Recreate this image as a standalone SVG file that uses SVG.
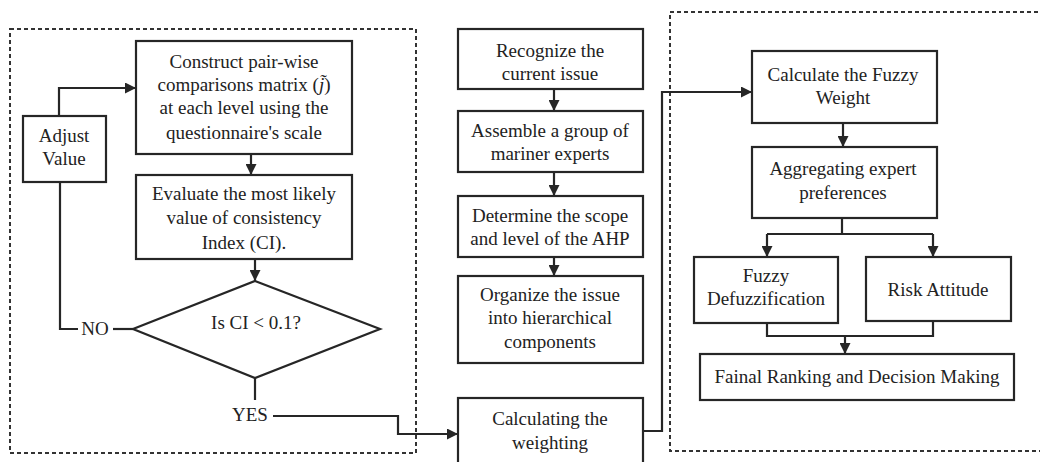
<svg xmlns="http://www.w3.org/2000/svg" width="1040" height="462" viewBox="0 0 1040 462">
<style>
.box{fill:#fff;stroke:#262626;stroke-width:2.2}
.dash{fill:none;stroke:#333;stroke-width:2;stroke-dasharray:4 3}
.ln{fill:none;stroke:#262626;stroke-width:2.2}
.t{font-family:'Liberation Serif','Times New Roman',Times,serif;font-size:19px;fill:#222;text-anchor:middle}
</style>
<defs>
<marker id="ah" viewBox="0 0 10 10" refX="10" refY="5" markerWidth="5" markerHeight="5" orient="auto" markerUnits="strokeWidth">
<path d="M0,0 L10,5 L0,10 z" fill="#262626"/>
</marker>
</defs>
<rect width="1040" height="462" fill="#fff"/>
<rect class="dash" x="10" y="29" width="406" height="424"/>
<rect class="dash" x="670" y="12" width="380" height="439"/>
<g id="connectors">
<path class="ln" d="M59,116 V88 H136" marker-end="url(#ah)"/>
<path class="ln" d="M251,154 V175" marker-end="url(#ah)"/>
<path class="ln" d="M255,259 V281" marker-end="url(#ah)"/>
<path class="ln" d="M133,329 H113"/>
<path class="ln" d="M78,329 H60 V182"/>
<path class="ln" d="M255,378 V400"/>
<path class="ln" d="M273,416 H398 V434 H458" marker-end="url(#ah)"/>
<path class="ln" d="M554,89 V111" marker-end="url(#ah)"/>
<path class="ln" d="M554,172 V196" marker-end="url(#ah)"/>
<path class="ln" d="M554,257 V276" marker-end="url(#ah)"/>
<path class="ln" d="M643,431 H662 V92 H752" marker-end="url(#ah)"/>
<path class="ln" d="M843,123 V147" marker-end="url(#ah)"/>
<path class="ln" d="M842,218 V234"/>
<path class="ln" d="M767,234 H933"/>
<path class="ln" d="M767,234 V257" marker-end="url(#ah)"/>
<path class="ln" d="M933,234 V257" marker-end="url(#ah)"/>
<path class="ln" d="M767,323 V336 H933 V321"/>
<path class="ln" d="M845,336 V354" marker-end="url(#ah)"/>
</g>
<g class="t">
<g id="construct">
<rect class="box" x="136" y="41" width="216" height="113"/>
<text x="244" y="68">Construct pair-wise</text>
<text x="244" y="91">comparisons matrix (<tspan font-style="italic">j̃</tspan>)</text>
<text x="244" y="114">at each level using the</text>
<text x="244" y="139">questionnaire's scale</text>
</g>
<g id="adjust">
<rect class="box" x="23" y="116" width="83" height="66"/>
<text x="64" y="142">Adjust</text>
<text x="64" y="165">Value</text>
</g>
<g id="evaluate">
<rect class="box" x="136" y="175" width="216" height="84"/>
<text x="244" y="200">Evaluate the most likely</text>
<text x="244" y="224">value of consistency</text>
<text x="244" y="249">Index (CI).</text>
</g>
<g id="decision">
<polygon class="box" points="255,281 380,329 255,378 133,329"/>
<text x="256" y="329">Is CI &lt; 0.1?</text>
</g>
<g id="no"><text x="95" y="335">NO</text></g>
<g id="yes"><text x="250" y="421">YES</text></g>
<g id="recognize">
<rect class="box" x="458" y="29" width="185" height="60"/>
<text x="550" y="57">Recognize the</text>
<text x="550" y="80">current issue</text>
</g>
<g id="assemble">
<rect class="box" x="458" y="111" width="185" height="61"/>
<text x="550" y="137">Assemble a group of</text>
<text x="550" y="160">mariner experts</text>
</g>
<g id="determine">
<rect class="box" x="458" y="196" width="185" height="61"/>
<text x="550" y="222">Determine the scope</text>
<text x="550" y="245">and level of the AHP</text>
</g>
<g id="organize">
<rect class="box" x="458" y="276" width="185" height="87"/>
<text x="550" y="301">Organize the issue</text>
<text x="550" y="324">into hierarchical</text>
<text x="550" y="348">components</text>
</g>
<g id="calculating">
<rect class="box" x="458" y="398" width="185" height="70"/>
<text x="550" y="425">Calculating the</text>
<text x="550" y="449">weighting</text>
</g>
<g id="fuzzyweight">
<rect class="box" x="752" y="51" width="185" height="72"/>
<text x="843" y="81">Calculate the Fuzzy</text>
<text x="843" y="104">Weight</text>
</g>
<g id="aggregating">
<rect class="box" x="752" y="147" width="185" height="71"/>
<text x="843" y="175">Aggregating expert</text>
<text x="843" y="199">preferences</text>
</g>
<g id="defuzz">
<rect class="box" x="694" y="257" width="144" height="66"/>
<text x="766" y="282">Fuzzy</text>
<text x="766" y="305">Defuzzification</text>
</g>
<g id="risk">
<rect class="box" x="866" y="257" width="145" height="64"/>
<text x="938" y="296">Risk Attitude</text>
</g>
<g id="final">
<rect class="box" x="700" y="354" width="314" height="46"/>
<text x="857" y="383">Fainal Ranking and Decision Making</text>
</g>
</g>
</svg>
